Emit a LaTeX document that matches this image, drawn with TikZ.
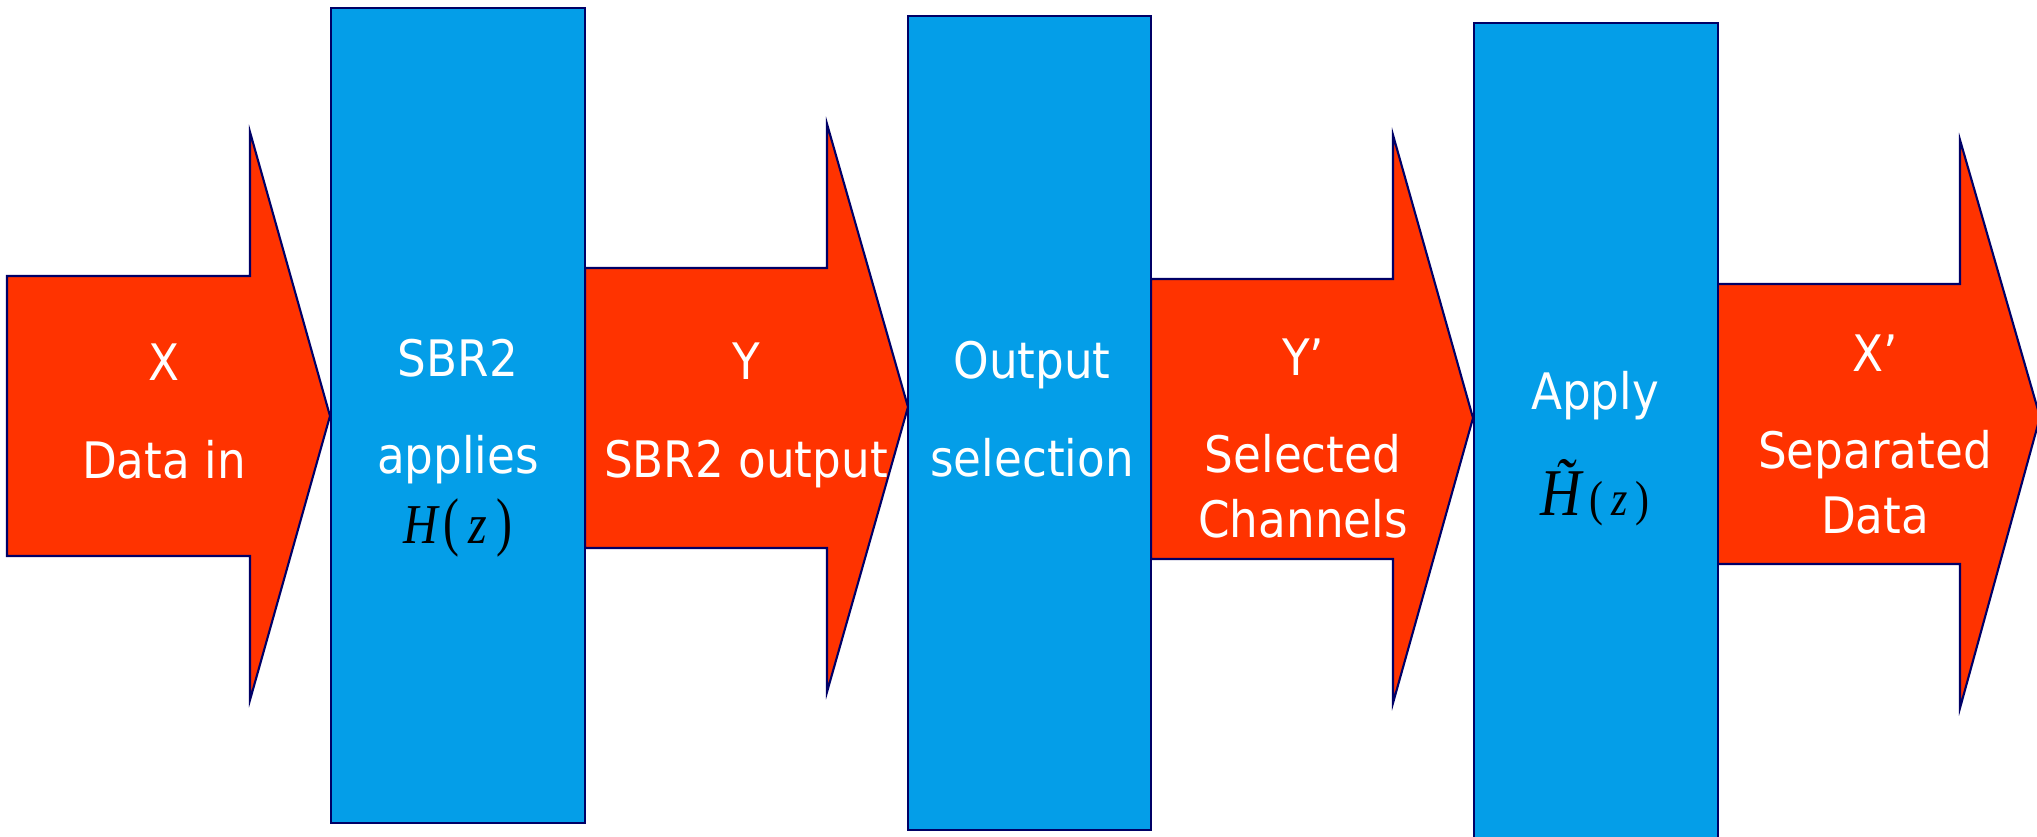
\documentclass[tikz,border=0pt]{standalone}
\usepackage{fontspec}
\setmainfont{DejaVu Sans}[FakeStretch=0.9]
\newfontfamily\tfont{Liberation Serif}[FakeStretch=0.85]
\definecolor{flowred}{RGB}{255,51,0}
\definecolor{boxblue}{RGB}{4,158,232}
\definecolor{edgenavy}{RGB}{0,0,102}
\newcommand{\tallparen}[1]{\scalebox{1}[1.15]{#1}}
\newcommand{\Hz}{{\color{black}\tfont\fontsize{16pt}{16pt}\selectfont\itshape H\hspace{0.1em}\upshape\tallparen{(}\,\itshape z\,\upshape\tallparen{)}}}
\newcommand{\Htz}{{\color{black}\tfont{\fontsize{19pt}{19pt}\selectfont\itshape \~{H}}\hspace{0.15em}{\fontsize{14pt}{14pt}\selectfont(\,\itshape z\,\upshape)}}}

\begin{document}
\begin{tikzpicture}[x=0.01cm, y=-0.01cm,
    flow/.style={draw=edgenavy, fill=flowred, line width=0.6pt},
    block/.style={draw=edgenavy, fill=boxblue, line width=0.6pt, rectangle, inner sep=0pt},
    txt/.style={text=white, align=center, anchor=base, inner sep=0pt,
        font=\fontsize{14.3pt}{18.2pt}\selectfont}]
    \useasboundingbox (0,0) rectangle (2037,837);

    % data arrows: tail, head base, tip, centre line, tip height
    \foreach \l/\b/\t/\c/\p in {7/250/330/416/416, 585/827/908/408/407,
                                1151/1393/1473/419/418, 1717/1960/2040/424/417}
        \draw[flow] (\l,\c-140) -- (\b,\c-140) -- (\b,\c-284) -- (\t,\p)
            -- (\b,\c+284) -- (\b,\c+140) -- (\l,\c+140) -- cycle;

    % processing blocks
    \node[block, minimum width=2.54cm, minimum height=8.15cm] (sbr) at (458,415.5) {};
    \node[block, minimum width=2.43cm, minimum height=8.14cm] (sel) at (1029.5,423) {};
    \node[block, minimum width=2.44cm, minimum height=8.27cm] (apply) at (1596,436.5) {};

    % labels (anchored on the last line)
    \node[txt] (xin) at (164,478) {X\\[0.33cm]Data in};
    \node[txt] (sbrtxt) at (458,543) {SBR2\\[0.33cm]applies\\[0.05cm]\Hz};
    \node[txt] (yout) at (746,477) {Y\\[0.33cm]SBR2 output};
    \node[txt] (seltxt) at (1032,476) {Output\\[0.33cm]selection};
    \node[txt] (ysel) at (1303,537) {Y’\\[0.33cm]Selected\\Channels};
    \node[txt] (applytxt) at (1595,515) {Apply\\[0.36cm]\Htz};
    \node[txt] (xsep) at (1875,533) {X’\\[0.33cm]Separated\\Data};
\end{tikzpicture}
\end{document}
